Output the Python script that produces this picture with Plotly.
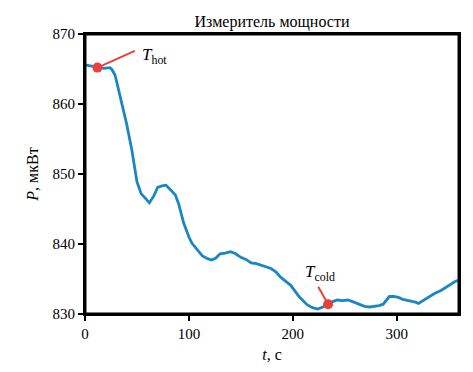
import plotly.graph_objects as go

# Time (s) and power (uW)
t = [0, 6, 12, 18, 24, 26, 29, 34, 40, 45, 50, 54, 58, 62, 66, 70, 74, 78, 82, 87, 90, 95, 100,
     103, 108, 113, 118, 122, 126, 130, 135, 140, 145, 150, 155, 160, 165, 171, 175, 179, 184,
     188, 193, 198, 202, 206, 210, 214, 219, 224, 229, 234, 239, 243, 248, 253, 257, 261, 265,
     269, 274, 279, 283, 287, 290, 293, 297, 301, 306, 310, 314, 318, 321, 325, 330, 336, 343,
     348, 353, 357, 360]
p = [865.6, 865.4, 865.2, 865.1, 865.2, 864.9, 864.1, 861.0, 857.2, 853.5, 848.9, 847.2, 846.6,
     845.9, 846.8, 848.1, 848.3, 848.4, 847.8, 847.0, 845.8, 843.0, 841.0, 840.1, 839.2, 838.3,
     837.9, 837.7, 838.0, 838.6, 838.7, 838.9, 838.6, 838.1, 837.8, 837.3, 837.2, 836.9, 836.6,
     836.5, 836.0, 835.3, 834.7, 834.1, 833.3, 832.5, 831.9, 831.3, 830.9, 830.7, 831.0, 831.5,
     831.8, 832.0, 831.9, 832.0, 831.8, 831.6, 831.4, 831.1, 831.0, 831.1, 831.2, 831.4, 832.0,
     832.5, 832.5, 832.4, 832.1, 832.0, 831.9, 831.7, 831.5, 831.9, 832.4, 832.9, 833.4, 833.9,
     834.4, 834.7, 834.8]

# Marked points
mark_t = [12, 234]
mark_p = [865.2, 831.4]
mark_subs = ["hot", "cold"]
# Leader line start points and label positions
lead_t = [48, 224.5]
lead_p = [867.6, 833.9]
label_t = [53, 226]
label_p = [866.9, 835.9]

title = "Измеритель мощности"
x_ticks = [0, 100, 200, 300]
y_ticks = [830, 840, 850, 860, 870]

font_family = "Liberation Serif"
blue = "#1b87c1"
red = "#e8403a"

fig = go.Figure()
fig.add_trace(go.Scatter(x=t, y=p, mode="lines",
                         line=dict(color=blue, width=2.8), showlegend=False,
                         hoverinfo="skip"))
for i in range(len(mark_t)):
    fig.add_trace(go.Scatter(x=[lead_t[i], mark_t[i]], y=[lead_p[i], mark_p[i]], mode="lines",
                             line=dict(color=red, width=2), showlegend=False, hoverinfo="skip"))
fig.add_trace(go.Scatter(x=mark_t, y=mark_p, mode="markers",
                         marker=dict(color=red, size=10), showlegend=False, hoverinfo="skip"))

for i in range(len(mark_t)):
    fig.add_annotation(x=label_t[i], y=label_p[i], xref="x", yref="y",
                       text="<i>T</i><sub>" + mark_subs[i] + "</sub>",
                       showarrow=False, xanchor="left" if i == 0 else "center",
                       yanchor="middle", font=dict(family=font_family, size=17, color="black"))

# Plot frame
fig.add_shape(type="rect", xref="x domain", yref="y domain", x0=0, x1=1, y0=0, y1=1,
              line=dict(color="black", width=3))

axis_common = dict(showline=True, linecolor="black", linewidth=1.8, mirror=True,
                   ticks="outside", ticklen=5, tickwidth=1.5, tickcolor="black",
                   showgrid=False, zeroline=False,
                   tickfont=dict(family=font_family, size=15, color="black"))

fig.update_xaxes(range=[0, 360], tickvals=x_ticks,
                 title=dict(text="<i>t</i>, с", font=dict(family=font_family, size=16, color="black"),
                            standoff=8),
                 **axis_common)
fig.update_yaxes(range=[830, 870], tickvals=y_ticks,
                 title=dict(text="<i>P</i>, мкВт", font=dict(family=font_family, size=16, color="black"),
                            standoff=10),
                 **axis_common)

fig.update_layout(
    width=473, height=372,
    font=dict(family=font_family, color="black"),
    margin=dict(l=85, r=14, t=34, b=58),
    plot_bgcolor="white", paper_bgcolor="white",
    title=dict(text=title, x=0.5, xref="paper", y=1, yref="paper", yanchor="bottom",
               pad=dict(b=7), font=dict(family=font_family, size=16, color="black")),
)

fig.write_html("out.html", config={"displayModeBar": False},
               post_script="document.body.style.margin='0';")
